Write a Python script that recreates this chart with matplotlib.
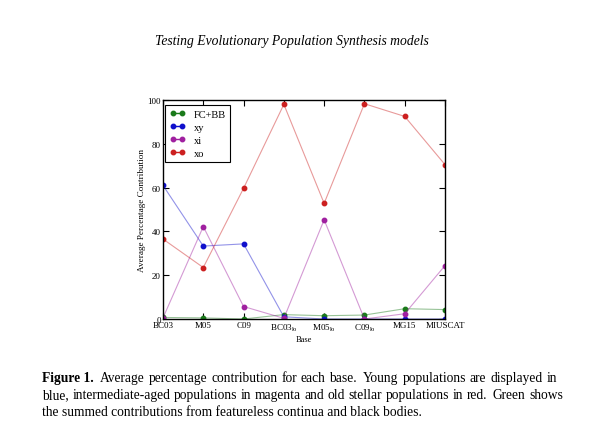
import numpy as np
import matplotlib
matplotlib.use("Agg")
import matplotlib.pyplot as plt

# --- data ---
bases = ["BC03", "M05", "C09", r"BC03$_{\rm lo}$", r"M05$_{\rm lo}$",
         r"C09$_{\rm lo}$", "MG15", "MIUSCAT"]
fcbb = [0.7, 0.5, 0.0, 2.0, 1.5, 1.8, 4.7, 4.3]
xy = [61.0, 33.3, 34.3, 1.0, 0.0, 0.0, 0.0, 0.0]
xi = [0.5, 42.2, 5.7, 0.3, 45.3, 0.0, 2.4, 24.4]
xo = [36.5, 23.5, 59.7, 98.0, 52.8, 98.3, 92.5, 70.5]

series = [("FC+BB", fcbb, "#1a7a1a"), ("xy", xy, "#1010cc"),
          ("xi", xi, "#a020a0"), ("xo", xo, "#cc2020")]

caption = [
    "Average percentage contribution for each base. Young populations are displayed in",
    "blue, intermediate-aged populations in magenta and old stellar populations in red. Green shows",
    "the summed contributions from featureless continua and black bodies.",
]

plt.rcParams["font.family"] = ["Liberation Serif", "DejaVu Serif"]
plt.rcParams["mathtext.fontset"] = "custom"
plt.rcParams["mathtext.rm"] = "Liberation Serif"

W, H = 599, 431
fig = plt.figure(figsize=(W / 100, H / 100), dpi=100)
ax = fig.add_axes([163 / W, 1 - 320 / H, 282 / W, 219 / H])

x = np.arange(len(bases))
for name, vals, col in series:
    ax.plot(x, vals, "-", color=col, lw=0.8, alpha=0.45)
    ax.plot(x, vals, "o", color=col, ms=3.2, mec=col)
    # legend proxy
    ax.plot([], [], "-o", color=col, ms=3.2, lw=1.0, label=name)

ax.set_xlim(0, len(bases) - 1)
ax.set_ylim(0, 100)
ax.set_xticks(x)
ax.set_xticklabels(bases, fontsize=6.5)
ax.set_yticks([0, 20, 40, 60, 80, 100])
ax.tick_params(axis="both", direction="in", top=True, right=True,
               length=4, width=0.8, labelsize=6.5, pad=1.5)
for s in ax.spines.values():
    s.set_linewidth(1.0)
ax.set_xlabel("Base", fontsize=6, labelpad=2)
ax.set_ylabel("Average Percentage Contribution", fontsize=6.6, labelpad=1)

leg = ax.legend(loc="upper left", bbox_to_anchor=(2 / 282, 1 - 5 / 219),
                borderaxespad=0, fontsize=7.5, numpoints=2, handlelength=1.5,
                handletextpad=0.8, fancybox=False, framealpha=1,
                edgecolor="black", labelspacing=0.35, borderpad=0.45)
leg.get_frame().set_linewidth(0.8)

# page header
fig.text(0.488, 1 - 42 / H, "Testing Evolutionary Population Synthesis models",
         ha="center", va="center", style="italic", fontsize=9.8)

# caption, first two lines justified to the right margin
fig.canvas.draw()
r = fig.canvas.get_renderer()
fs = 9.75
left = 42
rights = [557, 563, None]
ys = [379, 396, 413]


def word_w(w, **kw):
    t = fig.text(0, 0, w, fontsize=fs, **kw)
    wd = t.get_window_extent(renderer=r).width
    t.remove()
    return wd


t0 = fig.text(left / W, 1 - ys[0] / H, "Figure 1.", fontweight="bold",
              fontsize=fs, va="center")
start0 = t0.get_window_extent(renderer=r).x1 + 6

for i, line in enumerate(caption):
    x0 = start0 if i == 0 else left
    if rights[i] is None:
        fig.text(x0 / W, 1 - ys[i] / H, line, fontsize=fs, va="center")
        continue
    words = line.split()
    widths = [word_w(w) for w in words]
    # sentence ends get a wider space, as TeX does
    weights = [1.6 if w.endswith(".") else 1.0 for w in words[:-1]]
    unit = (rights[i] - x0 - sum(widths)) / sum(weights)
    xp = x0
    for k, (w, wd) in enumerate(zip(words, widths)):
        fig.text(xp / W, 1 - ys[i] / H, w, fontsize=fs, va="center")
        if k < len(weights):
            xp += wd + unit * weights[k]

fig.savefig("out.png", dpi=100)
